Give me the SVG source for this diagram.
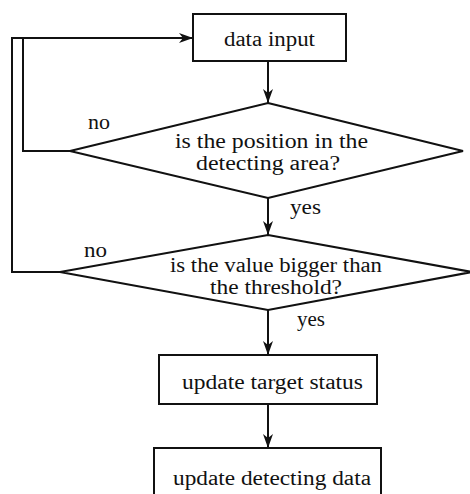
<svg xmlns="http://www.w3.org/2000/svg" width="470" height="494" viewBox="0 0 470 494" font-family="'Liberation Serif', 'DejaVu Serif', serif" font-size="20">
<style>
.s{fill:none;stroke:#111;stroke-width:2}
.b{fill:#fff;stroke:#111;stroke-width:2}
.t{font-family:"Liberation Serif","DejaVu Serif",serif;font-size:20px;fill:#111}
.m{text-anchor:middle}
</style>
<defs>
<marker id="a" viewBox="0 0 14 10" refX="14" refY="5" markerWidth="14" markerHeight="10" markerUnits="userSpaceOnUse" orient="auto">
<path d="M0,0 L14,5 L0,10 L4,5 Z" fill="#111"/>
</marker>
</defs>
<rect width="470" height="494" fill="#fff"/>
<g id="connectors">
<path class="s" d="M268,61 V103" marker-end="url(#a)"/>
<path class="s" d="M268,198 V235" marker-end="url(#a)"/>
<path class="s" d="M268,310 V355" marker-end="url(#a)"/>
<path class="s" d="M268,404 V448" marker-end="url(#a)"/>
<path class="s" d="M70,151 H23 V38"/>
<path class="s" d="M60,272 H12 V38 H193" marker-end="url(#a)"/>
<text class="t" x="88" y="129" textLength="22" lengthAdjust="spacingAndGlyphs">no</text>
<text class="t" x="84" y="257" textLength="23" lengthAdjust="spacingAndGlyphs">no</text>
<text class="t" x="290" y="214" textLength="31" lengthAdjust="spacingAndGlyphs">yes</text>
<text class="t" x="297" y="326" textLength="28" lengthAdjust="spacingAndGlyphs">yes</text>
</g>
<g id="n1">
<rect class="b" x="193" y="14" width="153" height="47"/>
<text class="t" x="224" y="46" textLength="91" lengthAdjust="spacingAndGlyphs">data input</text>
</g>
<g id="n2">
<polygon class="b" points="268,103 463,151 268,198 70,151"/>
<text class="t" x="175" y="148" textLength="193" lengthAdjust="spacingAndGlyphs">is the  position in the</text>
<text class="t m" x="268" y="170" textLength="144" lengthAdjust="spacingAndGlyphs">detecting area?</text>
</g>
<g id="n3">
<polygon class="b" points="268,235 472,272 268,310 60,272"/>
<text class="t" x="170" y="272" textLength="212" lengthAdjust="spacingAndGlyphs">is the value bigger than</text>
<text class="t" x="210" y="294" textLength="132" lengthAdjust="spacingAndGlyphs">the threshold?</text>
</g>
<g id="n4">
<rect class="b" x="159" y="355" width="218" height="49"/>
<text class="t" x="182" y="389" textLength="181" lengthAdjust="spacingAndGlyphs">update target status</text>
</g>
<g id="n5">
<rect class="b" x="154" y="448" width="227" height="60"/>
<text class="t" x="173" y="485" textLength="198" lengthAdjust="spacingAndGlyphs">update detecting data</text>
</g>
</svg>
